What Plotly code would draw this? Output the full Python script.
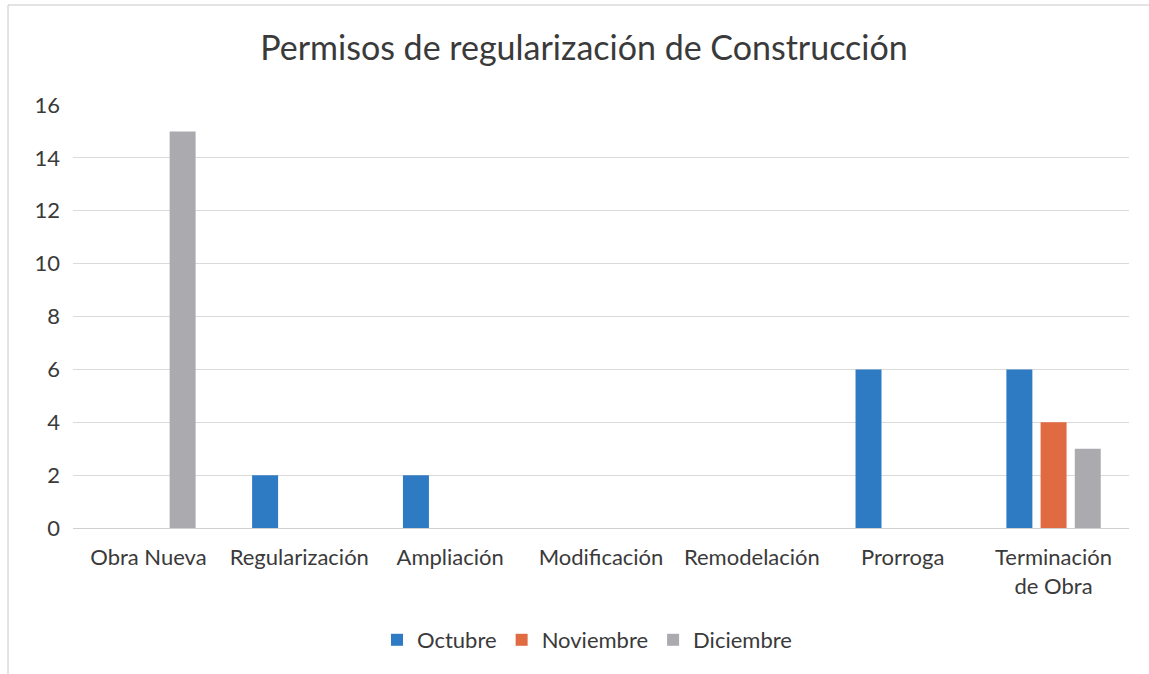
import plotly.graph_objects as go

categories = ["Obra Nueva", "Regularización", "Ampliación", "Modificación",
              "Remodelación", "Prorroga", "Terminación<br>de Obra"]
octubre = [0, 2, 2, 0, 0, 6, 6]
noviembre = [0, 0, 0, 0, 0, 0, 4]
diciembre = [15, 0, 0, 0, 0, 0, 3]
series_names = ["Octubre", "Noviembre", "Diciembre"]
series_colors = ["#2E7BC4", "#E06A42", "#ABABAF"]
y_ticks = [0, 2, 4, 6, 8, 10, 12, 14, 16]

W, H = 1149, 674
L, R, T, B = 73, 20, 105, 146
pw, ph = W - L - R, H - T - B

fig = go.Figure()
for name, vals, col in zip(series_names, [octubre, noviembre, diciembre], series_colors):
    fig.add_trace(go.Bar(x=categories, y=vals, name=name, marker_color=col,
                         marker_line_width=0))

font_family = "Lato, 'Open Sans', sans-serif"
fig.update_layout(
    width=W, height=H,
    margin=dict(l=L, r=R, t=T, b=B),
    paper_bgcolor="white", plot_bgcolor="white",
    barmode="group", bargap=0.32, bargroupgap=0.24,
    font=dict(family=font_family, color="#3a3a3a", size=22),
    title=dict(text="Permisos de regularización de Construcción",
               x=(584 - L) / pw, xref="paper", xanchor="center",
               y=1 - 48 / H, yanchor="middle",
               font=dict(size=34, color="#3a3a3a", family=font_family)),
    showlegend=True,
    legend=dict(orientation="h", x=(587 - L) / pw, xanchor="center", xref="paper",
                y=(528 - 640) / ph, yanchor="middle",
                font=dict(size=22, color="#3a3a3a"),
                itemwidth=30, traceorder="normal"),
    xaxis=dict(showgrid=False, showline=True, linecolor="#d0d0d0", linewidth=1,
               ticks="", ticklabelstandoff=10,
               tickfont=dict(size=22, color="#3a3a3a")),
    yaxis=dict(range=[0, 16], tickvals=y_ticks, showgrid=True,
               gridcolor="#dadada", gridwidth=1, zeroline=False,
               showline=False, ticks="", ticklabelstandoff=12,
               tickfont=dict(size=22, color="#3a3a3a")),
    shapes=[
        dict(type="line", xref="paper", yref="paper",
             x0=(8 - L) / pw, x1=(8 - L) / pw, y0=(528 - 5) / ph, y1=(528 - 674) / ph,
             line=dict(color="#c8c8c8", width=1)),
        dict(type="line", xref="paper", yref="paper",
             x0=(8 - L) / pw, x1=(1149 - L) / pw, y0=(528 - 5) / ph, y1=(528 - 5) / ph,
             line=dict(color="#c8c8c8", width=1)),
    ],
)

fig.write_html("out.html",
               config={"displayModeBar": False},
               post_script="document.body.style.margin='0';document.body.style.overflow='hidden';")
